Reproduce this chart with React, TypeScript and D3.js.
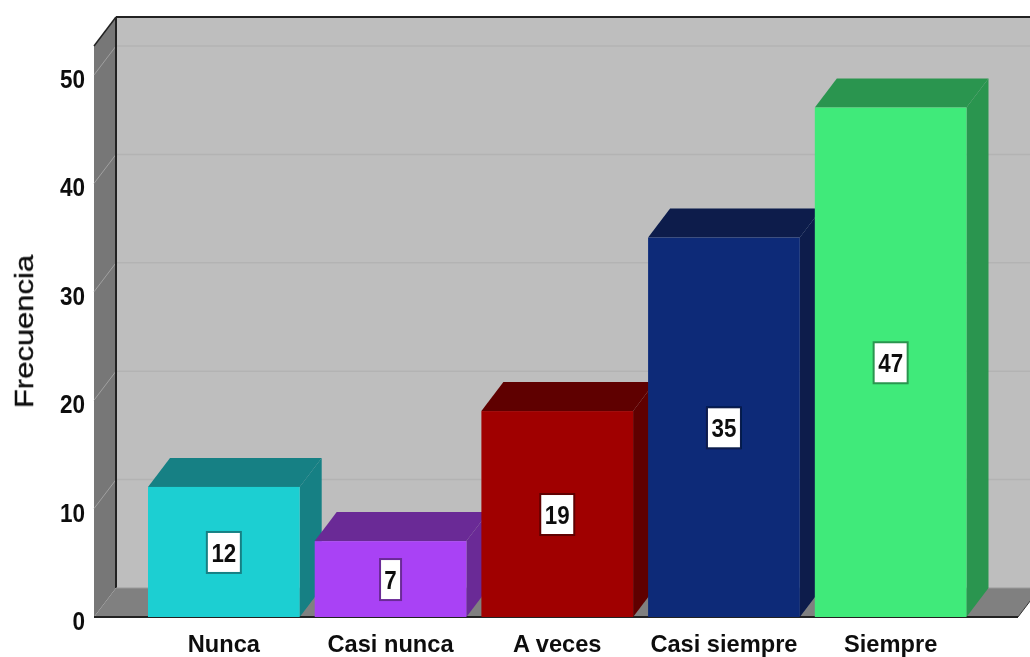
import React from "react";
import * as d3 from "d3";

const categories = ["Nunca", "Casi nunca", "A veces", "Casi siempre", "Siempre"];
const values = [12, 7, 19, 35, 47];
const frontColors = ["#1fcfd2", "#a942f5", "#a00000", "#0a2a78", "#40ea7a"];
const topColors = ["#128084", "#6a2a96", "#5f0000", "#071a4c", "#2a954f"];
const sideColors = ["#128084", "#6a2a96", "#5f0000", "#071a4c", "#2a954f"];
const yTicks = [0, 10, 20, 30, 40, 50];

const W = 1030, H = 657;
const DX = 22, DY = -29;
const y = d3.scaleLinear().domain([0, 50]).range([617, 75]);
const x = d3.scaleBand<string>().domain(categories).range([148, 966.5]).paddingInner(0.09).paddingOuter(0);
const left = 94, right = 1018;
const FF = "'Liberation Sans', Arial, sans-serif";

const pts = (p: number[][]) => p.map((d) => d.join(",")).join(" ");

export default function App() {
  const y0 = y(0), yMax = 46;
  const labelW = (v: number) => (String(v).length > 1 ? 34 : 21);
  return (
    <svg width={W} height={H} viewBox={`0 0 ${W} ${H}`} style={{ position: "fixed", left: 0, top: 0, background: "#fff" }}>
      <defs>
        <filter id="soft" x="-5%" y="-5%" width="110%" height="110%">
          <feGaussianBlur stdDeviation="0.6" />
        </filter>
      </defs>
      <g filter="url(#soft)">
        <rect x={left + DX} y={yMax + DY} width={right - left} height={y0 - yMax} fill="#bebebe" />
        {yTicks.filter((t) => t > 0).map((t) => (
          <line key={t} x1={left + DX} x2={right + DX} y1={y(t) + DY} y2={y(t) + DY} stroke="#b3b3b3" strokeWidth={1.5} />
        ))}
        <polygon points={pts([[left, yMax], [left + DX, yMax + DY], [left + DX, y0 + DY], [left, y0]])} fill="#777777" />
        <polygon points={pts([[left, y0], [left + DX, y0 + DY], [right + DX, y0 + DY], [right, y0]])} fill="#808080" />
        {yTicks.filter((t) => t > 0).map((t) => (
          <line key={t} x1={left} x2={left + DX} y1={y(t)} y2={y(t) + DY} stroke="#a0a0a0" strokeWidth={1} />
        ))}
        <line x1={left + DX} x2={left + DX} y1={yMax + DY} y2={y0 + DY} stroke="#222" strokeWidth={2} />
        <line x1={left + DX} x2={right + DX} y1={yMax + DY} y2={yMax + DY} stroke="#222" strokeWidth={2} />
        <line x1={left} x2={left + DX} y1={yMax} y2={yMax + DY} stroke="#222" strokeWidth={1.5} />
        <line x1={left} x2={right} y1={y0} y2={y0} stroke="#222" strokeWidth={2} />
        <line x1={right} x2={right + DX} y1={y0} y2={y0 + DY} stroke="#333" strokeWidth={1} />
        <line x1={left + DX} x2={right + DX} y1={y0 + DY} y2={y0 + DY} stroke="#9a9a9a" strokeWidth={1} />

        {categories.map((c, i) => {
          const x0 = x(c)!, x1 = x0 + x.bandwidth(), top = y(values[i]);
          return (
            <g key={c}>
              <polygon points={pts([[x1, top], [x1 + DX, top + DY], [x1 + DX, y0 + DY], [x1, y0]])} fill={sideColors[i]} />
              <polygon points={pts([[x0, top], [x0 + DX, top + DY], [x1 + DX, top + DY], [x1, top]])} fill={topColors[i]} />
              <rect x={x0} y={top} width={x1 - x0} height={y0 - top} fill={frontColors[i]} />
            </g>
          );
        })}

        {categories.map((c, i) => {
          const cx = x(c)! + x.bandwidth() / 2, cy = y(values[i] / 2) + 0.5, w = labelW(values[i]);
          return (
            <g key={c + "-label"}>
              <rect x={cx - w / 2} y={cy - 20.5} width={w} height={41} fill="#fff" stroke={topColors[i]} strokeWidth={2} />
              <text transform={`translate(${cx},${cy + 9.5}) scale(0.86,1)`} textAnchor="middle" fontFamily={FF} fontWeight={700} fontSize={26} fill="#111">
                {values[i]}
              </text>
            </g>
          );
        })}

        {yTicks.map((t) => (
          <text key={t} transform={`translate(85,${y(t) + 13}) scale(0.9,1)`} textAnchor="end" fontFamily={FF} fontWeight={700} fontSize={25} fill="#111">
            {t}
          </text>
        ))}
        {categories.map((c) => (
          <text key={c} transform={`translate(${x(c)! + x.bandwidth() / 2},651.5) scale(0.985,1)`} textAnchor="middle" fontFamily={FF} fontWeight={700} fontSize={24} fill="#111">
            {c}
          </text>
        ))}
        <text transform="translate(33,331.5) rotate(-90) scale(1.24,1)" textAnchor="middle" fontFamily={FF} fontSize={25} fontWeight={400} stroke="#111" strokeWidth={0.3} fill="#111">
          Frecuencia
        </text>
      </g>
    </svg>
  );
}
